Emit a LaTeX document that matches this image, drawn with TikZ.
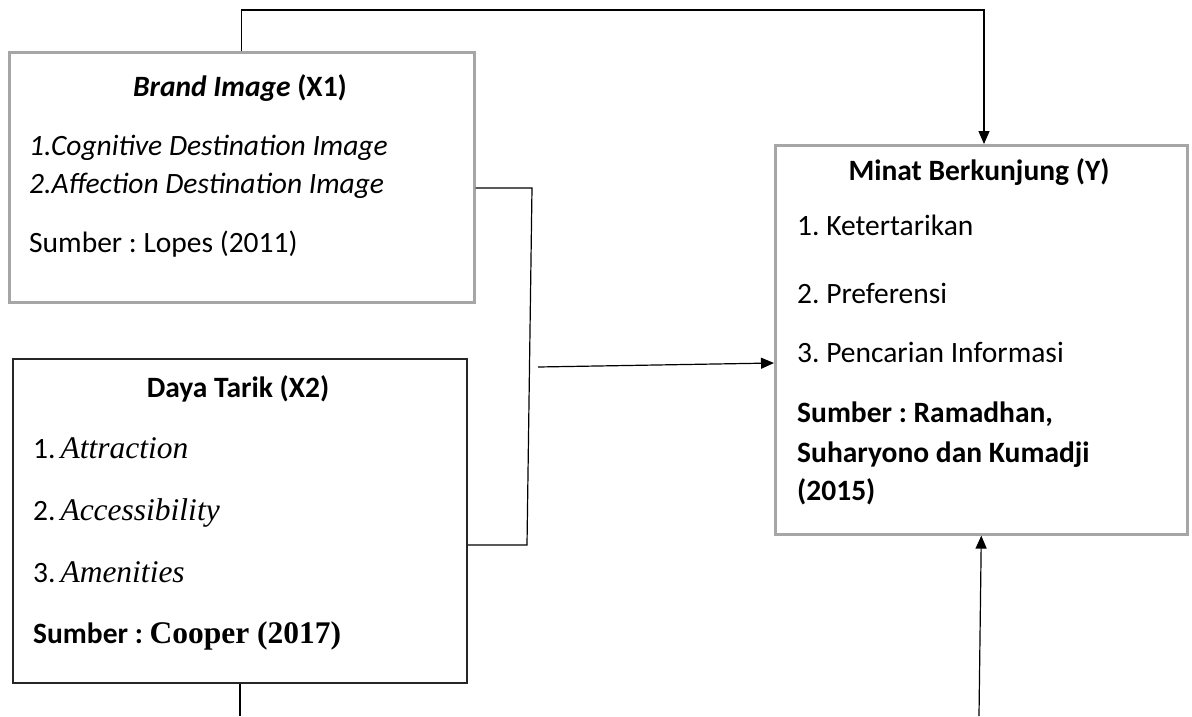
\documentclass[tikz,border=0pt]{standalone}
\usepackage{fontspec}
\setmainfont{Carlito}
\newfontfamily\timesf{Liberation Serif}
\usetikzlibrary{arrows.meta}
\definecolor{boxgray}{HTML}{A6A6A6}
\frenchspacing
\tikzset{
  graybox/.style={draw=boxgray, line width=2.6pt, fill=white, inner sep=0pt, anchor=north west},
  blackbox/.style={draw=black!85, line width=2pt, fill=white, inner sep=0pt, anchor=north west},
  conn/.style={draw=black, line width=1.2pt},
  arr/.style={conn, -{Triangle[length=13pt,width=11pt]}},
  txt/.style={anchor=base west, inner sep=0pt, font=\fontsize{29.5}{34}\selectfont},
  ttl/.style={anchor=base, inner sep=0pt, font=\fontsize{29.5}{34}\selectfont\bfseries},
}
\newcommand{\tms}{\fontsize{31.5}{36}\selectfont\timesf}
\begin{document}
\begin{tikzpicture}[x=1pt,y=-1pt]
\useasboundingbox (0,0) rectangle (1192,716);
% boxes
\node[graybox, minimum width=465pt, minimum height=250pt] (x1) at (8,51) {};
\node[blackbox, minimum width=454pt, minimum height=324pt] (x2) at (12,358) {};
\node[graybox, minimum width=412pt, minimum height=389pt] (y) at (774,144) {};
% X1 texts
\node[ttl] (x1t) at (240,96) {\itshape Brand Image\upshape{} (X1)};
\node[txt] (x1a) at (29,155) {\itshape 1.Cognitive Destination Image};
\node[txt] (x1b) at (29,193) {\itshape 2.Affection Destination Image};
\node[txt] (x1c) at (29,252) {Sumber : Lopes (2011)};
% X2 texts
\node[ttl] (x2t) at (238,397) {Daya Tarik (X2)};
\node[txt] (x2a) at (33,458) {1.\,{\tms\itshape Attraction}};
\node[txt] (x2b) at (33,520) {2.\,{\tms\itshape Accessibility}};
\node[txt] (x2c) at (33,582) {3.\,{\tms\itshape Amenities}};
\node[txt] (x2d) at (33,643) {\bfseries Sumber : {\tms\bfseries Cooper (2017)}};
% Y texts
\node[ttl] (yt) at (979,180) {Minat Berkunjung (Y)};
\node[txt] (ya) at (797,235) {1. Ketertarikan};
\node[txt] (yb) at (797,303) {2. Preferensi};
\node[txt] (yc) at (797,362) {3. Pencarian Informasi};
\node[txt] (yd) at (797,422) {\bfseries Sumber : Ramadhan,};
\node[txt] (ye) at (797,462) {\bfseries Suharyono dan Kumadji};
\node[txt] (yf) at (797,500) {\bfseries (2015)};
% connector points
\coordinate (top) at (984,10);
\coordinate (j1) at (532,188);
\coordinate (j2) at (527,545);
\coordinate (a0) at (538,367);
\coordinate (a1) at (774,363);
\coordinate (b0) at (979,716);
\coordinate (b1) at (236,716);
% connectors
\draw[arr] (x1.north) |- (top) -- (y.north -| top);
\draw[conn] (x1.east |- j1) -- (j1) -- (j2) -- (x2.east |- j2);
\draw[arr] (a0) -- (y.west |- a1);
\draw[conn] (x2.south) -- (x2.south |- b1);
\draw[arr] (b0) -- (y.south);
\end{tikzpicture}
\end{document}
